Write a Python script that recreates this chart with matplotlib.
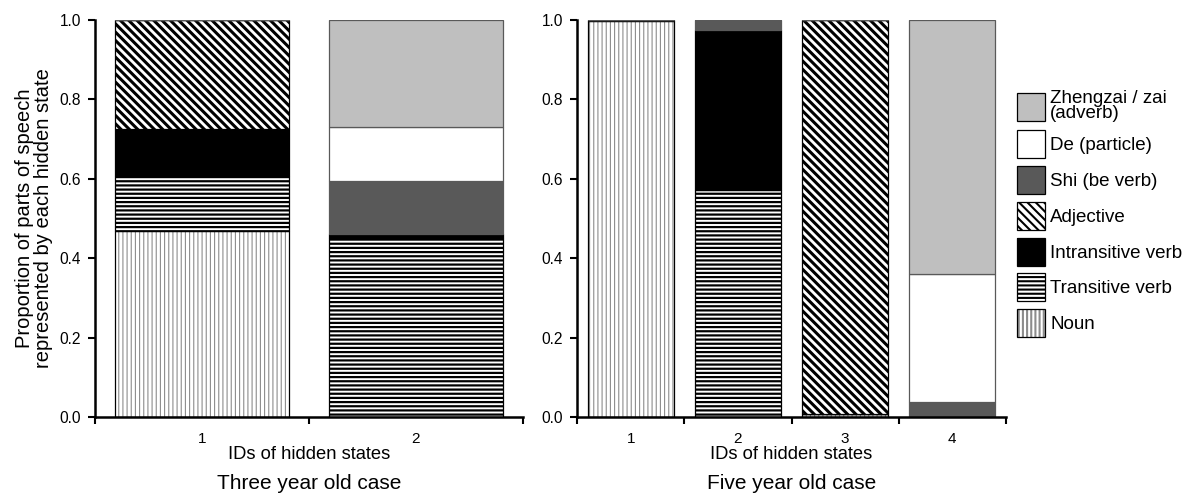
import numpy as np
import matplotlib
matplotlib.use("Agg")
from matplotlib import pyplot as plt
from matplotlib.patches import Patch
from matplotlib.legend_handler import HandlerTuple

plt.rcParams['font.family'] = ['Liberation Sans', 'DejaVu Sans']

# parts of speech, bottom to top of each stack
pos_labels = ["Noun", "Transitive verb", "Intransitive verb", "Adjective",
              "Shi (be verb)", "De (particle)", "Zhengzai / zai\n(adverb)"]

# proportions per hidden state (rows = states, cols = parts of speech)
three_states = ["1", "2"]
three_year = np.array([
    [0.468, 0.140, 0.117, 0.275, 0.000, 0.000, 0.000],
    [0.000, 0.452, 0.010, 0.000, 0.133, 0.135, 0.270],
])

five_states = ["1", "2", "3", "4"]
five_year = np.array([
    [0.997, 0.003, 0.000, 0.000, 0.000, 0.000, 0.000],
    [0.000, 0.573, 0.403, 0.000, 0.024, 0.000, 0.000],
    [0.007, 0.000, 0.000, 0.993, 0.000, 0.000, 0.000],
    [0.000, 0.000, 0.000, 0.000, 0.037, 0.323, 0.640],
])

# style per part of speech: facecolor, hatch, hatch colour, hatch linewidth
styles = [
    ("white", "||||", "#8c8c8c", 0.8),
    ("white", "----", "black", 1.6),
    ("black", None, "black", 1.0),
    ("white", "\\\\\\\\", "black", 2.2),
    ("#595959", None, "#595959", 1.0),
    ("white", None, "white", 1.0),
    ("#bfbfbf", None, "#bfbfbf", 1.0),
]


def draw_stack(ax, data, names, width, title):
    x = np.arange(len(names))
    bottom = np.zeros(len(names))
    for j in range(data.shape[1]):
        fc, hatch, hc, hlw = styles[j]
        vals = data[:, j]
        with plt.rc_context({'hatch.linewidth': hlw}):
            bars = ax.bar(x, vals, width, bottom=bottom, color=fc,
                          edgecolor=hc, hatch=hatch, linewidth=0)
        for b in bars:
            if hasattr(b, "set_hatch_linewidth"):
                b.set_hatch_linewidth(hlw)
        edge = "#595959" if hatch is None and fc != "black" else "black"
        ax.bar(x, vals, width, bottom=bottom, fill=False,
               edgecolor=edge, linewidth=0.9)
        bottom += vals

    ax.set_xlim(-0.5, len(names) - 0.5)
    ax.set_ylim(0, 1.0)
    ax.set_yticks(np.arange(0, 1.01, 0.2))
    ax.set_yticklabels([f"{v:.1f}" for v in np.arange(0, 1.01, 0.2)])
    ax.set_xticks(x)
    ax.set_xticklabels(names)
    ax.set_xticks(np.arange(-0.5, len(names), 1.0), minor=True)
    ax.tick_params(axis='x', which='major', length=0, pad=10.5, labelsize=11)
    ax.tick_params(axis='x', which='minor', length=5, width=1.5, direction='out')
    ax.tick_params(axis='y', length=5, width=1.5, direction='out', pad=5,
                   labelsize=11.2)
    for s in ["top", "right"]:
        ax.spines[s].set_visible(False)
    for s in ["left", "bottom"]:
        ax.spines[s].set_linewidth(1.8)
    ax.set_xlabel("IDs of hidden states", fontsize=13.2, labelpad=0)
    ax.text(0.5, -0.181, title, transform=ax.transAxes, ha='center',
            va='baseline', fontsize=15)


fig = plt.figure(figsize=(11.89, 4.93), dpi=100)
ax1 = fig.add_axes([95 / 1189, 76 / 493, 428 / 1189, 397 / 493])
ax2 = fig.add_axes([577 / 1189, 76 / 493, 429 / 1189, 397 / 493])

draw_stack(ax1, three_year, three_states, 0.81, "Three year old case")
draw_stack(ax2, five_year, five_states, 0.80, "Five year old case")

ax1.set_ylabel("Proportion of parts of speech\nrepresented by each hidden state",
               fontsize=14.5, labelpad=5, linespacing=0.95)

# legend, top entry first
handles = []
for j in reversed(range(len(pos_labels))):
    fc, hatch, hc, hlw = styles[j]
    fill = Patch(facecolor=fc, edgecolor=hc, hatch=hatch, linewidth=0)
    border = Patch(fill=False, edgecolor="black", linewidth=0.9)
    handles.append((fill, border))
labels = list(reversed(pos_labels))
with plt.rc_context({'hatch.linewidth': 1.5}):
    leg = fig.legend(handles, labels, loc='upper left',
                     bbox_to_anchor=(1017 / 1189, 1 - 90 / 493),
                     frameon=False, fontsize=13.5, handlelength=1.5,
                     handleheight=1.92, labelspacing=0.42, handletextpad=0.27,
                     borderaxespad=0, borderpad=0,
                     handler_map={tuple: HandlerTuple(ndivide=1, pad=0)})
for t in leg.get_texts():
    t.set_linespacing(0.85)

fig.savefig("out.png", dpi=100)
